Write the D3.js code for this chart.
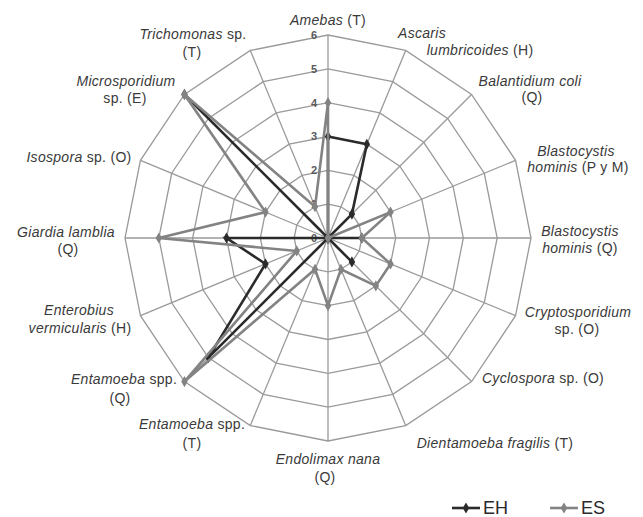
<!DOCTYPE html>
<html>
<head>
<meta charset="utf-8">
<script src="https://cdn.jsdelivr.net/npm/d3@7"></script>
<style>
  html, body { margin: 0; padding: 0; background: #ffffff; }
  svg { display: block; }
  text { font-family: "Liberation Sans", Arial, sans-serif; }
</style>
</head>
<body>
<svg id="chart" width="643" height="517"></svg>
<script>
// ---- data ----
const categories = [
  "Amebas (T)", "Ascaris lumbricoides (H)", "Balantidium coli (Q)",
  "Blastocystis hominis (P y M)", "Blastocystis hominis (Q)", "Cryptosporidium sp. (O)",
  "Cyclospora sp. (O)", "Dientamoeba fragilis (T)", "Endolimax nana (Q)",
  "Entamoeba spp. (T)", "Entamoeba spp. (Q)", "Enterobius vermicularis (H)",
  "Giardia lamblia (Q)", "Isospora sp. (O)", "Microsporidium sp. (E)", "Trichomonas sp. (T)"
];
const seriesNames = ["EH", "ES"];
const valuesEH = [3, 3, 1, 0, 1, 0, 1, 0, 0, 0, 5, 2, 3, 0, 6, 0];
const valuesES = [4, 0, 0, 2, 1, 2, 2, 1, 2, 1, 6, 1, 5, 2, 6, 1];
const tickValues = [0, 1, 2, 3, 4, 5, 6];

// label text pieces per category: each line is [italicPart, normalPart]
const labelLines = [
  [["Amebas", " (T)"]],
  [["Ascaris", ""], ["lumbricoides", " (H)"]],
  [["Balantidium coli", ""], ["", "(Q)"]],
  [["Blastocystis", ""], ["hominis", " (P y M)"]],
  [["Blastocystis", ""], ["hominis", " (Q)"]],
  [["Cryptosporidium", ""], ["", "sp. (O)"]],
  [["Cyclospora", " sp. (O)"]],
  [["Dientamoeba fragilis", " (T)"]],
  [["Endolimax nana", ""], ["", "(Q)"]],
  [["Entamoeba", " spp."], ["", "(T)"]],
  [["Entamoeba", " spp."], ["", "(Q)"]],
  [["Enterobius", ""], ["vermicularis", " (H)"]],
  [["Giardia lamblia", ""], ["", "(Q)"]],
  [["Isospora", " sp. (O)"]],
  [["Microsporidium", ""], ["", "sp. (E)"]],
  [["Trichomonas", " sp."], ["", "(T)"]]
];

// ---- layout (positions of label lines: [centerX, baselineY]) ----
const labelPos = [
  [[328, 25]],
  [[422, 38], [480, 55]],
  [[530, 86], [532, 102]],
  [[576, 156], [578, 172]],
  [[580, 236], [580, 253]],
  [[578, 317], [577, 334]],
  [[543, 383]],
  [[495, 448]],
  [[328, 464], [325, 482]],
  [[192, 429], [192, 448]],
  [[124, 384], [120, 403]],
  [[79, 315], [80, 333]],
  [[66, 237], [68, 254]],
  [[79, 162]],
  [[126, 86], [125, 103]],
  [[193, 39], [192, 57]]
];

const cx = 328, cy = 238, R = 203;
const svg = d3.select("#chart");
const r = d3.scaleLinear().domain([0, 6]).range([0, R]);
const angle = d3.scalePoint().domain(categories).range([0, 2 * Math.PI * (15 / 16)]);

const g = svg.append("g").attr("transform", `translate(${cx},${cy})`);

function pt(cat, v) {
  const a = angle(cat);
  return [r(v) * Math.sin(a), -r(v) * Math.cos(a)];
}

// grid polygons
const gridColor = "#9a9a9a";
tickValues.filter(t => t > 0).forEach(t => {
  g.append("path")
    .attr("d", d3.line().curve(d3.curveLinearClosed)(categories.map(c => pt(c, t))))
    .attr("fill", "none").attr("stroke", gridColor).attr("stroke-width", 1.3);
});
// spokes
categories.forEach(c => {
  const [x, y] = pt(c, 6);
  g.append("line").attr("x1", 0).attr("y1", 0).attr("x2", x).attr("y2", y)
    .attr("stroke", gridColor).attr("stroke-width", 1.3);
});

// tick labels
g.selectAll("text.tick").data(tickValues).enter().append("text")
  .attr("class", "tick")
  .attr("x", -11).attr("y", d => -r(d))
  .attr("dy", "0.35em")
  .attr("text-anchor", "end")
  .attr("font-size", 11).attr("font-weight", "bold")
  .attr("fill", "#5a5a5a")
  .text(d => d);

// series
const series = [
  { name: seriesNames[0], values: valuesEH, color: "#2b2b2b" },
  { name: seriesNames[1], values: valuesES, color: "#838383" }
];
const diamond = d3.symbol().type(d3.symbolDiamond).size(36);
series.forEach(s => {
  const pts = categories.map((c, i) => pt(c, s.values[i]));
  g.append("path")
    .attr("d", d3.line().curve(d3.curveLinearClosed)(pts))
    .attr("fill", "none").attr("stroke", s.color).attr("stroke-width", 2.6)
    .attr("stroke-linejoin", "miter");
  g.selectAll(null).data(pts).enter().append("path")
    .attr("d", diamond)
    .attr("transform", d => `translate(${d[0]},${d[1]})`)
    .attr("fill", s.color);
});

// category labels
labelLines.forEach((lines, i) => {
  lines.forEach((ln, j) => {
    const [x, y] = labelPos[i][j];
    const t = svg.append("text")
      .attr("x", x).attr("y", y)
      .attr("text-anchor", "middle")
      .attr("font-size", 14)
      .attr("letter-spacing", "0.3px")
      .attr("fill", "#3a3a3a");
    if (ln[0]) t.append("tspan").attr("font-style", "italic").text(ln[0]);
    if (ln[1]) t.append("tspan").attr("font-style", "normal").text(ln[1]);
  });
});

// legend
const legend = svg.append("g");
const legendItems = [
  { name: seriesNames[0], color: series[0].color, x: 452 },
  { name: seriesNames[1], color: series[1].color, x: 550 }
];
legendItems.forEach(it => {
  legend.append("line").attr("x1", it.x).attr("x2", it.x + 28)
    .attr("y1", 508).attr("y2", 508)
    .attr("stroke", it.color).attr("stroke-width", 2.6);
  legend.append("path").attr("d", diamond)
    .attr("transform", `translate(${it.x + 14},508)`).attr("fill", it.color);
  legend.append("text").attr("x", it.x + 31).attr("y", 508)
    .attr("dy", "0.36em").attr("font-size", 18).attr("fill", "#2a2a2a")
    .text(it.name);
});
</script>
</body>
</html>
